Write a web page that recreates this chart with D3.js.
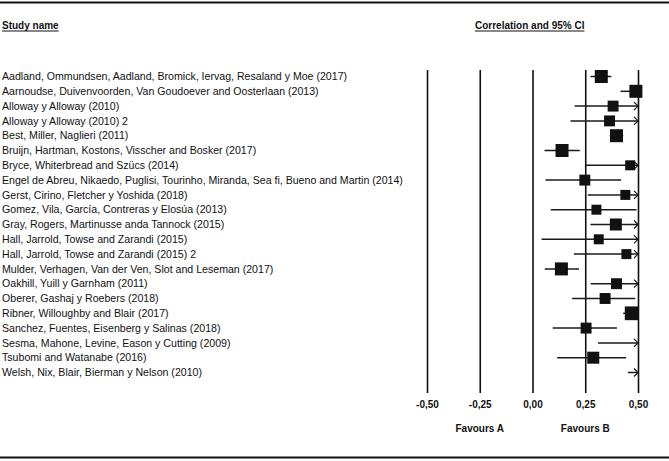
<!DOCTYPE html>
<html>
<head>
<meta charset="utf-8">
<script src="https://cdn.jsdelivr.net/npm/d3@7"></script>
<style>
  body { margin: 0; background: #fff; }
  svg { display: block; font-family: "Liberation Sans", Arial, sans-serif; }
</style>
</head>
<body>
<div id="chart"></div>
<script>
// studies, top to bottom
var studies = [
  "Aadland, Ommundsen, Aadland, Bromick, Iervag, Resaland y Moe (2017)",
  "Aarnoudse, Duivenvoorden, Van Goudoever and Oosterlaan (2013)",
  "Alloway y Alloway (2010)",
  "Alloway y Alloway (2010) 2",
  "Best, Miller, Naglieri (2011)",
  "Bruijn, Hartman, Kostons, Visscher and Bosker (2017)",
  "Bryce, Whiterbread and Szücs (2014)",
  "Engel de Abreu, Nikaedo, Puglisi, Tourinho, Miranda, Sea fi, Bueno and Martin (2014)",
  "Gerst, Cirino, Fletcher y Yoshida (2018)",
  "Gomez, Vila, García, Contreras y Elosúa (2013)",
  "Gray, Rogers, Martinusse anda Tannock (2015)",
  "Hall, Jarrold, Towse and Zarandi (2015)",
  "Hall, Jarrold, Towse and Zarandi (2015) 2",
  "Mulder, Verhagen, Van der Ven, Slot and Leseman (2017)",
  "Oakhill, Yuill y Garnham (2011)",
  "Oberer, Gashaj y Roebers (2018)",
  "Ribner, Willoughby and Blair (2017)",
  "Sanchez, Fuentes, Eisenberg y Salinas (2018)",
  "Sesma, Mahone, Levine, Eason y Cutting (2009)",
  "Tsubomi and Watanabe (2016)",
  "Welsh, Nix, Blair, Bierman y Nelson (2010)"
];
var correlation = [0.326, 0.49, 0.382, 0.365, 0.398, 0.14, 0.463, 0.248, 0.44, 0.303, 0.395,
                   0.314, 0.445, 0.137, 0.398, 0.344, 0.47, 0.254, 0.56, 0.288, 0.62];
var lowerCI = [0.275, 0.417, 0.20, 0.18, 0.366, 0.057, 0.25, 0.062, 0.262, 0.087, 0.275,
               0.043, 0.196, 0.058, 0.276, 0.188, 0.43, 0.096, 0.31, 0.117, 0.452];
var upperCI = [0.374, 0.50, 0.56, 0.55, 0.43, 0.224, 0.66, 0.42, 0.61, 0.493, 0.51,
               0.58, 0.68, 0.22, 0.52, 0.487, 0.50, 0.40, 0.78, 0.444, 0.77];
var weights = [6.8, 6.8, 4.8, 4.8, 6.8, 6.8, 4.0, 4.8, 4.0, 4.0, 5.8,
               4.0, 4.0, 6.8, 4.8, 4.8, 7.6, 4.8, 4.5, 5.8, 4.5];
var tickValues = [-0.5, -0.25, 0, 0.25, 0.5];
var favourLabels = [{ text: "Favours A", at: -0.25 }, { text: "Favours B", at: 0.25 }];

var width = 669, height = 461;
var plotTop = 70, plotBottom = 393;

var rows = studies.map(function (name, i) {
    return { name: name, r: correlation[i], lo: lowerCI[i], hi: upperCI[i], w: weights[i] };
});

var svg = d3.select("#chart").append("svg")
    .attr("width", width)
    .attr("height", height);

var x = d3.scaleLinear().domain([-0.5, 0.5]).range([427, 638]);
var y = d3.scalePoint().domain(d3.range(rows.length)).range([76.5, 372.5]);
var boxSize = d3.scaleSqrt().domain([0, 8]).range([0, 14.1]);

var locale = d3.formatLocale({ decimal: ",", thousands: ".", grouping: [3], currency: ["", ""], minus: "-" });
var fmt = locale.format(".2f");

// frame lines
svg.append("line").attr("x1", 0).attr("x2", width).attr("y1", 2.5).attr("y2", 2.5)
    .attr("stroke", "#111").attr("stroke-width", 2);
svg.append("line").attr("x1", 0).attr("x2", width).attr("y1", 457.5).attr("y2", 457.5)
    .attr("stroke", "#111").attr("stroke-width", 2);

// headers
var headers = [{ text: "Study name", x: 2 }, { text: "Correlation and 95% CI", x: 475 }];
headers.forEach(function (h) {
    var t = svg.append("text")
        .attr("x", h.x)
        .attr("y", 28.5)
        .attr("font-size", 10)
        .attr("font-weight", "bold")
        .attr("fill", "#111")
        .text(h.text);
    var len = t.node().getComputedTextLength();
    svg.append("line").attr("x1", h.x).attr("x2", h.x + len).attr("y1", 31).attr("y2", 31)
        .attr("stroke", "#111").attr("stroke-width", 1);
});

// axis with vertical reference lines
var axis = svg.append("g")
    .attr("transform", "translate(0," + plotBottom + ")")
    .call(d3.axisBottom(x).tickValues(tickValues).tickFormat(fmt)
        .tickSizeInner(-(plotBottom - plotTop)).tickSizeOuter(0).tickPadding(8));
axis.select(".domain").remove();
axis.selectAll(".tick line").attr("stroke", "#111").attr("stroke-width", 1.6);
axis.selectAll(".tick text")
    .attr("font-size", 10)
    .attr("font-weight", "bold")
    .attr("font-family", "Liberation Sans, Arial, sans-serif")
    .attr("fill", "#111");

svg.selectAll(".favour")
    .data(favourLabels)
    .enter().append("text")
    .attr("class", "favour")
    .attr("x", function (d) { return x(d.at); })
    .attr("y", 432)
    .attr("text-anchor", "middle")
    .attr("font-size", 10)
    .attr("font-weight", "bold")
    .attr("fill", "#111")
    .text(function (d) { return d.text; });

// study names
svg.selectAll(".name")
    .data(rows)
    .enter().append("text")
    .attr("class", "name")
    .attr("x", 2)
    .attr("y", function (d, i) { return y(i) + 3.7; })
    .attr("font-size", 10.6)
    .attr("fill", "#111")
    .text(function (d) { return d.name; });

// confidence intervals
var xmax = x.domain()[1];
var g = svg.append("g");
g.selectAll(".ci")
    .data(rows)
    .enter().append("line")
    .attr("class", "ci")
    .attr("x1", function (d) { return x(Math.max(d.lo, x.domain()[0])); })
    .attr("x2", function (d) { return x(Math.min(d.hi, xmax)); })
    .attr("y1", function (d, i) { return y(i); })
    .attr("y2", function (d, i) { return y(i); })
    .attr("stroke", "#1a1a1a")
    .attr("stroke-width", 1.5);

// arrows where the interval runs past the axis
g.selectAll(".arrow")
    .data(rows.map(function (d, i) { return { d: d, i: i }; }).filter(function (o) { return o.d.hi > xmax; }))
    .enter().append("path")
    .attr("class", "arrow")
    .attr("d", function (o) {
        var ax = x(xmax), ay = y(o.i);
        return "M" + (ax - 4) + "," + (ay - 4) + "L" + ax + "," + ay + "L" + (ax - 4) + "," + (ay + 4);
    })
    .attr("fill", "none")
    .attr("stroke", "#1a1a1a")
    .attr("stroke-width", 1.2);

// boxes
g.selectAll(".box")
    .data(rows.map(function (d, i) { return { d: d, i: i }; }).filter(function (o) { return o.d.r <= xmax; }))
    .enter().append("rect")
    .attr("class", "box")
    .attr("x", function (o) { return x(o.d.r) - boxSize(o.d.w) / 2; })
    .attr("y", function (o) { return y(o.i) - boxSize(o.d.w) / 2; })
    .attr("width", function (o) { return boxSize(o.d.w); })
    .attr("height", function (o) { return boxSize(o.d.w); })
    .attr("fill", "#111");
</script>
</body>
</html>
